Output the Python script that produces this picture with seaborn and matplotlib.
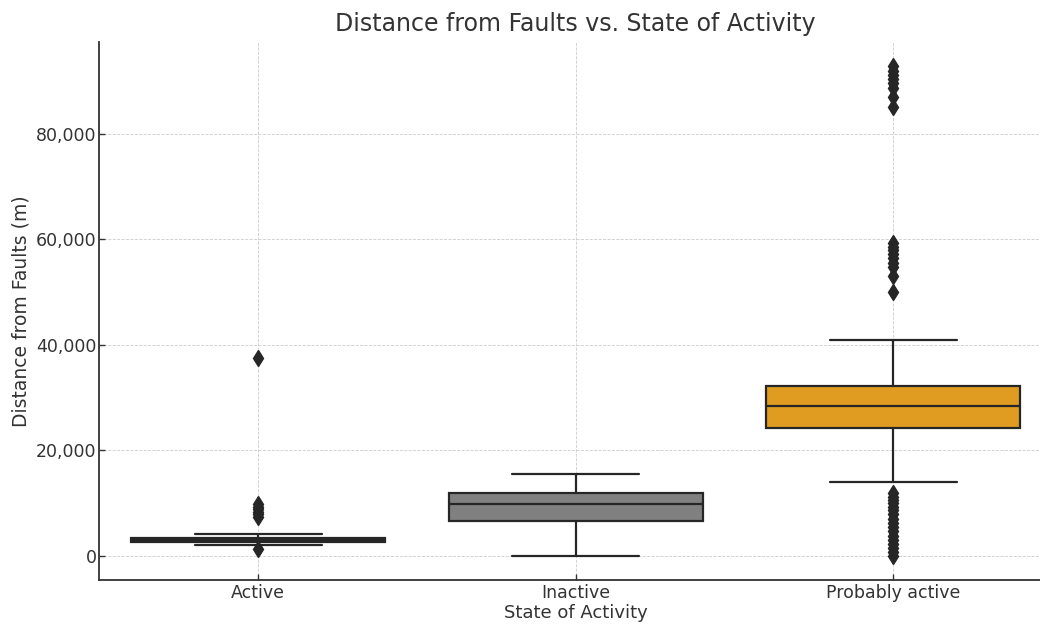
import matplotlib
matplotlib.use("Agg")
import matplotlib.pyplot as plt
import matplotlib.ticker as mticker
import seaborn as sns
import pandas as pd

# ---- values ----
categories = ["Active", "Inactive", "Probably active"]
box_colors = ["black", "gray", "orange"]

q1 = [2650, 6500, 24200]
median = [3000, 9800, 28440]
q3 = [3350, 11880, 32230]
whisker_low = [2000, 0, 13900]
whisker_high = [4100, 15540, 40950]

outliers_low = [
    [1300],
    [],
    [0, 700, 1400, 2200, 3000, 3800, 4600, 5400, 6200, 7000, 7800, 8600,
     9300, 10000, 10600, 11200, 11800],
]
outliers_high = [
    [7300, 7800, 8300, 8800, 9300, 9800, 37500],
    [],
    [50000, 53100, 54800, 55600, 56400, 57200, 57900, 58600, 59300,
     85100, 87000, 88700, 89600, 90400, 91200, 92000, 92800],
]


def build_sample(lo, wlo, a, m, b, whi, hi):
    """Raw sample whose quartiles / whiskers / fliers reproduce the read stats."""
    k = max(len(lo), len(hi)) + 1
    vals = list(lo) + [wlo] + [a] * (k - len(lo)) + [m] * k + [b] * k \
        + [whi] * (k - len(hi)) + list(hi)
    return vals


rows = []
for i, cat in enumerate(categories):
    for v in build_sample(outliers_low[i], whisker_low[i], q1[i], median[i],
                          q3[i], whisker_high[i], outliers_high[i]):
        rows.append((cat, v))
df = pd.DataFrame(rows, columns=["State of Activity", "Distance from Faults (m)"])

# ---- style ----
sns.set_style("ticks")
txt = "#333333"
plt.rcParams.update({
    "font.family": ["DejaVu Sans"],
    "text.color": txt,
    "axes.labelcolor": txt,
    "xtick.color": txt,
    "ytick.color": txt,
    "axes.edgecolor": "#333333",
})

fig = plt.figure(figsize=(10.4, 6.24), dpi=100)
ax = fig.add_axes([99.25 / 1040, 44 / 624, 952.5 / 1040, 538 / 624])

line_c = "#262626"
sns.boxplot(
    data=df, x="State of Activity", y="Distance from Faults (m)",
    hue="State of Activity", order=categories, hue_order=categories,
    palette=box_colors, legend=False, width=0.8, linewidth=1.6,
    linecolor=line_c, saturation=0.75, fliersize=8,
    flierprops=dict(marker="d", markerfacecolor=line_c,
                    markeredgecolor=line_c),
    ax=ax,
)

ax.set_title("Distance from Faults vs. State of Activity", fontsize=17, pad=8)
ax.set_xlabel("State of Activity", fontsize=13, labelpad=1)
ax.set_ylabel("Distance from Faults (m)", fontsize=13.5)
ax.yaxis.set_major_formatter(mticker.FuncFormatter(lambda v, p: f"{v:,.0f}"))
ax.tick_params(axis="both", direction="in", length=4, width=1, labelsize=12.5)
ax.tick_params(axis="y", pad=2)
ax.tick_params(axis="x", pad=3)
ax.grid(True, linestyle="--", linewidth=0.6, color="#cccccc")
for s in ["top", "right"]:
    ax.spines[s].set_visible(False)
for s in ["left", "bottom"]:
    ax.spines[s].set_linewidth(1.3)

fig.savefig("out.png", dpi=100)
